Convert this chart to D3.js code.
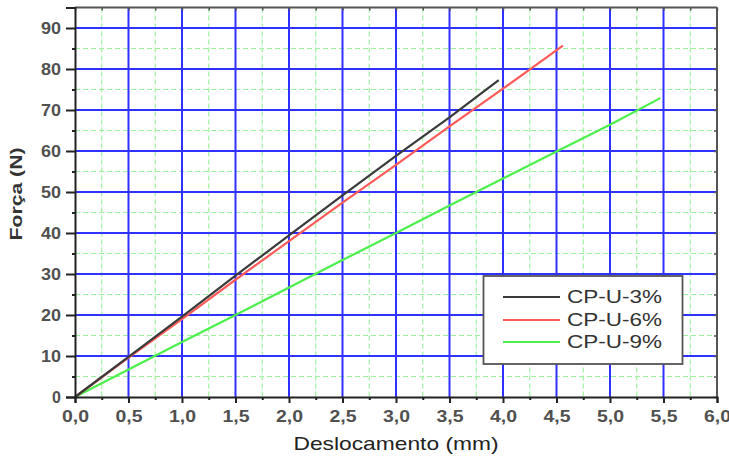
<!DOCTYPE html>
<html>
<head>
<meta charset="utf-8">
<script src="https://cdn.jsdelivr.net/npm/d3@7/dist/d3.min.js"></script>
<style>
  html, body { margin: 0; padding: 0; background: #fff; }
  svg { display: block; font-family: "Liberation Sans", Arial, sans-serif; }
</style>
</head>
<body>
<svg id="chart" width="729" height="457"></svg>
<script>
// Force–displacement curves for the three specimens
const seriesNames = ["CP-U-3%", "CP-U-6%", "CP-U-9%"];
const seriesColors = ["#3a3a3a", "#ff5a5a", "#4cef4c"];

const disp3 = [0, 0.5, 1.0, 1.5, 2.0, 2.5, 3.0, 3.5, 3.96];
const force3 = [0, 9.8, 19.6, 29.6, 39.4, 49.2, 58.8, 68.2, 77.3];

const disp6 = [0, 0.5, 1.0, 1.5, 2.0, 2.5, 3.0, 3.5, 4.0, 4.56];
const force6 = [0, 9.6, 19.0, 28.6, 38.0, 47.4, 56.6, 66.0, 75.2, 85.7];

const disp9 = [0, 0.5, 1.0, 1.5, 2.0, 2.5, 3.0, 3.5, 4.0, 4.5, 5.0, 5.47];
const force9 = [0, 6.7, 13.4, 20.0, 26.7, 33.4, 40.0, 46.7, 53.3, 59.9, 66.4, 72.9];

const xTicks = [0, 0.5, 1.0, 1.5, 2.0, 2.5, 3.0, 3.5, 4.0, 4.5, 5.0, 5.5, 6.0];
const yTicks = [0, 10, 20, 30, 40, 50, 60, 70, 80, 90];
const xMinor = d3.range(0.25, 6, 0.5);
const yMinor = d3.range(5, 95, 10);

const xTitle = "Deslocamento (mm)";
const yTitle = "Força (N)";

const svg = d3.select("#chart");
const padL = 75, padR = 717, padT = 7.5, padB = 397;

const x = d3.scaleLinear().domain([0, 6]).range([padL, padR]);
const y = d3.scaleLinear().domain([0, 95]).range([padB, padT]);

// minor grid (dashed green)
const grid = svg.append("g");
grid.selectAll(".gxm").data(xMinor).join("line")
  .attr("x1", d => x(d)).attr("x2", d => x(d))
  .attr("y1", padT).attr("y2", padB)
  .attr("stroke", "#9ef29e").attr("stroke-width", 1.2)
  .attr("stroke-dasharray", "5,3");
grid.selectAll(".gym").data(yMinor).join("line")
  .attr("x1", padL).attr("x2", padR)
  .attr("y1", d => y(d)).attr("y2", d => y(d))
  .attr("stroke", "#9ef29e").attr("stroke-width", 1.2)
  .attr("stroke-dasharray", "5,3");

// major grid (blue)
grid.selectAll(".gx").data(xTicks.filter(d => d > 0 && d < 6)).join("line")
  .attr("x1", d => x(d)).attr("x2", d => x(d))
  .attr("y1", padT).attr("y2", padB)
  .attr("stroke", "#3030ff").attr("stroke-width", 2);
grid.selectAll(".gy").data(yTicks.filter(d => d > 0)).join("line")
  .attr("x1", padL).attr("x2", padR)
  .attr("y1", d => y(d)).attr("y2", d => y(d))
  .attr("stroke", "#3030ff").attr("stroke-width", 2);

// frame: top and right
svg.append("line").attr("x1", padL).attr("x2", padR).attr("y1", padT).attr("y2", padT)
  .attr("stroke", "#555").attr("stroke-width", 2);
svg.append("line").attr("x1", padR).attr("x2", padR).attr("y1", padT).attr("y2", padB)
  .attr("stroke", "#555").attr("stroke-width", 2);

// inner ticks along top and right
svg.append("g").attr("transform", `translate(0,${padT})`)
  .call(d3.axisBottom(x).tickValues(d3.range(0, 6.01, 0.25)).tickSize(3).tickFormat(""))
  .call(g => g.select(".domain").remove())
  .call(g => g.selectAll("line").attr("stroke", "#555").attr("stroke-width", 1.5));
svg.append("g").attr("transform", `translate(${padR},0)`)
  .call(d3.axisLeft(y).tickValues(d3.range(0, 95, 5)).tickSize(3).tickFormat(""))
  .call(g => g.select(".domain").remove())
  .call(g => g.selectAll("line").attr("stroke", "#555").attr("stroke-width", 1.5));

// data lines
const lineGen = d3.line().x(d => x(d[0])).y(d => y(d[1]));
const series = [
  d3.zip(disp3, force3),
  d3.zip(disp6, force6),
  d3.zip(disp9, force9)
];
// green first, then red, then black on top
[2, 1, 0].forEach(i => {
  svg.append("path").datum(series[i])
    .attr("d", lineGen)
    .attr("fill", "none")
    .attr("stroke", seriesColors[i])
    .attr("stroke-width", 2.2);
});

// axes
const fmt = d => d.toFixed(1).replace(".", ",");
const xAxis = svg.append("g").attr("transform", `translate(0,${padB})`)
  .call(d3.axisBottom(x).tickValues(xTicks).tickSize(6).tickPadding(8).tickFormat(fmt));
svg.append("g").attr("transform", `translate(0,${padB})`)
  .call(d3.axisBottom(x).tickValues(xMinor).tickSize(3).tickFormat(""))
  .call(g => g.select(".domain").remove())
  .call(g => g.selectAll("line").attr("stroke", "#222").attr("stroke-width", 2));
const yAxis = svg.append("g").attr("transform", `translate(${padL},0)`)
  .call(d3.axisLeft(y).tickValues(yTicks).tickSize(9).tickPadding(5).tickFormat(d3.format("d")));
svg.append("g").attr("transform", `translate(${padL},0)`)
  .call(d3.axisLeft(y).tickValues(yMinor).tickSize(3).tickFormat(""))
  .call(g => g.select(".domain").remove())
  .call(g => g.selectAll("line").attr("stroke", "#222").attr("stroke-width", 2));

xAxis.select(".domain").attr("stroke", "#222").attr("stroke-width", 2);
yAxis.select(".domain").attr("stroke", "#222").attr("stroke-width", 2);
xAxis.selectAll(".tick line").attr("stroke", "#222").attr("stroke-width", 2);
yAxis.selectAll(".tick line").attr("stroke", "#222").attr("stroke-width", 2);

xAxis.selectAll("text")
  .attr("font-size", 16).attr("font-weight", "bold").attr("fill", "#505050")
  .attr("textLength", 27).attr("lengthAdjust", "spacingAndGlyphs");
yAxis.selectAll("text")
  .attr("font-size", 16).attr("font-weight", "bold").attr("fill", "#505050")
  .each(function (d) {
    if (String(d).length > 1) d3.select(this).attr("textLength", 20).attr("lengthAdjust", "spacingAndGlyphs");
  });

// axis titles
svg.append("text")
  .attr("x", 396).attr("y", 450)
  .attr("text-anchor", "middle")
  .attr("font-size", 19).attr("fill", "#222")
  .attr("textLength", 205).attr("lengthAdjust", "spacingAndGlyphs")
  .text(xTitle);
svg.append("text")
  .attr("transform", "translate(22,194) rotate(-90)")
  .attr("text-anchor", "middle")
  .attr("font-size", 17).attr("font-weight", "bold").attr("fill", "#333")
  .attr("textLength", 93).attr("lengthAdjust", "spacingAndGlyphs")
  .text(yTitle);

// legend
const lg = svg.append("g");
lg.append("rect")
  .attr("x", 483.5).attr("y", 276).attr("width", 199).attr("height", 88)
  .attr("fill", "#fff").attr("stroke", "#555").attr("stroke-width", 1.8);
const rowsY = [297, 320, 342];
seriesNames.forEach((name, i) => {
  lg.append("line")
    .attr("x1", 503).attr("x2", 560)
    .attr("y1", rowsY[i]).attr("y2", rowsY[i])
    .attr("stroke", seriesColors[i]).attr("stroke-width", 2);
  lg.append("text")
    .attr("x", 567).attr("y", rowsY[i]).attr("dy", "0.36em")
    .attr("font-size", 18).attr("fill", "#333")
    .attr("textLength", 95).attr("lengthAdjust", "spacingAndGlyphs")
    .text(name);
});
</script>
</body>
</html>
